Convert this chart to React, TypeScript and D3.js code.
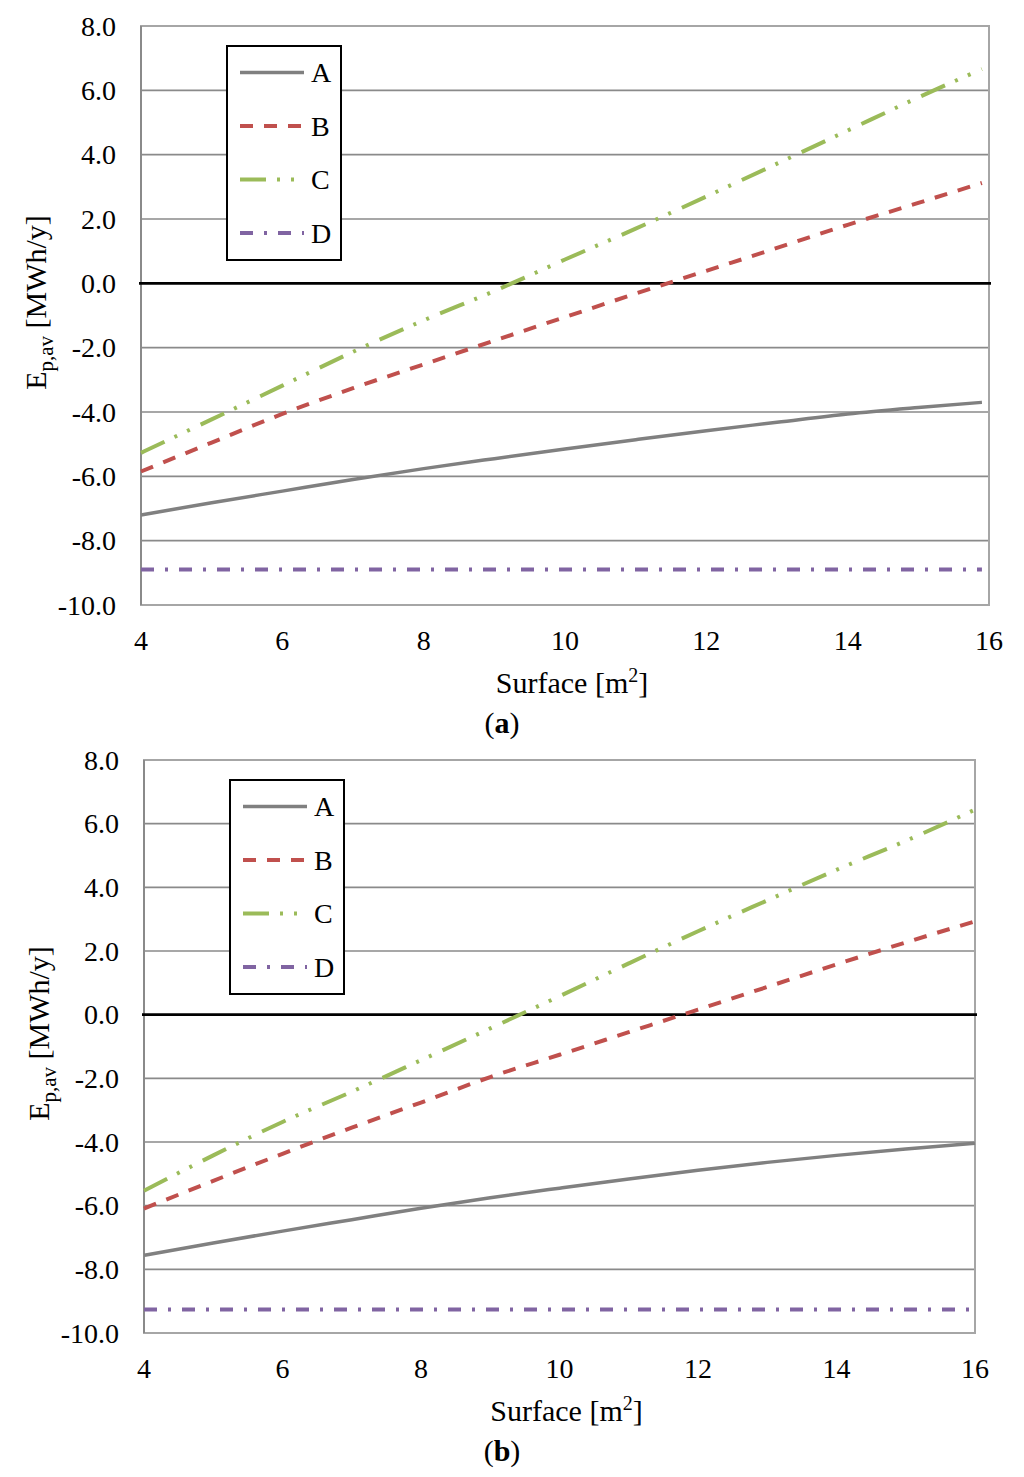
import React from 'react';
import * as d3 from 'd3';

// x values (surface, m2)
const surfaceA = [4, 5, 6, 7, 8, 9, 10, 11, 12, 13, 14, 15, 15.9];
const surfaceB = [4, 5, 6, 7, 8, 9, 10, 11, 12, 13, 14, 15, 16];

// panel (a)
const panelA_A = [-7.2, -6.82, -6.46, -6.1, -5.76, -5.45, -5.15, -4.86, -4.58, -4.32, -4.06, -3.86, -3.7];
const panelA_B = [-5.85, -4.95, -4.06, -3.26, -2.52, -1.78, -1.05, -0.32, 0.39, 1.1, 1.82, 2.5, 3.12];
const panelA_C = [-5.27, -4.23, -3.18, -2.13, -1.15, -0.24, 0.74, 1.7, 2.7, 3.72, 4.75, 5.78, 6.66];
const panelA_D = [-8.9, -8.9, -8.9, -8.9, -8.9, -8.9, -8.9, -8.9, -8.9, -8.9, -8.9, -8.9, -8.9];

// panel (b)
const panelB_A = [-7.56, -7.17, -6.8, -6.44, -6.08, -5.75, -5.45, -5.16, -4.89, -4.64, -4.42, -4.22, -4.04];
const panelB_B = [-6.09, -5.22, -4.37, -3.55, -2.76, -1.96, -1.26, -0.55, 0.16, 0.87, 1.58, 2.27, 2.93];
const panelB_C = [-5.53, -4.42, -3.37, -2.42, -1.43, -0.43, 0.58, 1.61, 2.62, 3.59, 4.55, 5.46, 6.44];
const panelB_D = [-9.26, -9.26, -9.26, -9.26, -9.26, -9.26, -9.26, -9.26, -9.26, -9.26, -9.26, -9.26, -9.26];

const seriesNames = ['A', 'B', 'C', 'D'];
const yTicks = [8, 6, 4, 2, 0, -2, -4, -6, -8, -10];
const xTicks = [4, 6, 8, 10, 12, 14, 16];

const styles = [
  { color: '#808080', dash: '', width: 3.5 },
  { color: '#c0504d', dash: '13 11', width: 4 },
  { color: '#9bbb59', dash: '26 11 3 11 3 12', width: 4 },
  { color: '#8064a2', dash: '13 11 3 11', width: 4 },
];

const FONT = '"Liberation Serif", "Times New Roman", serif';

type PanelProps = {
  left: number;
  right: number;
  top: number;
  bottom: number;
  xs: number[];
  series: number[][];
  caption: string;
};

const Panel: React.FC<PanelProps> = ({ left, right, top, bottom, xs, series, caption }) => {
  const x = d3.scaleLinear().domain([4, 16]).range([left, right]);
  const y = d3.scaleLinear().domain([-10, 8]).range([bottom, top]);
  const line = d3
    .line<[number, number]>()
    .x((d) => x(d[0]))
    .y((d) => y(d[1]))
    .curve(d3.curveMonotoneX);

  const legendLeft = left + 86;
  const legendTop = top + 20;
  const rowH = 53.5;

  return (
    <g fontFamily={FONT} fill="#000">
      {/* grid */}
      {yTicks
        .filter((t) => t !== 0 && t !== 8 && t !== -10)
        .map((t) => (
          <line key={t} x1={left} x2={right} y1={y(t)} y2={y(t)} stroke="#8a8a8a" strokeWidth={1.6} />
        ))}
      <rect x={left} y={top} width={right - left} height={bottom - top} fill="none" stroke="#a6a6a6" strokeWidth={2} />
      <line x1={left} x2={left} y1={top} y2={bottom} stroke="#8a8a8a" strokeWidth={2} />
      <line x1={left - 2} x2={right + 2} y1={y(0)} y2={y(0)} stroke="#000" strokeWidth={2.6} />

      {/* y tick labels */}
      {yTicks.map((t) => (
        <text key={t} x={left - 25} y={y(t)} dy="0.34em" textAnchor="end" fontSize={28} fontFamily={FONT}>
          {t.toFixed(1)}
        </text>
      ))}
      {/* x tick labels */}
      {xTicks.map((t) => (
        <text key={t} x={x(t)} y={bottom + 45} textAnchor="middle" fontSize={28} fontFamily={FONT}>
          {t}
        </text>
      ))}

      {/* series */}
      {series.map((vals, i) => (
        <path
          key={i}
          d={line(xs.map((v, j) => [v, vals[j]] as [number, number])) || ''}
          fill="none"
          stroke={styles[i].color}
          strokeWidth={styles[i].width}
          strokeDasharray={styles[i].dash || undefined}
        />
      ))}

      {/* legend */}
      <rect x={legendLeft} y={legendTop} width={114} height={214} fill="#fff" stroke="#000" strokeWidth={2} />
      {seriesNames.map((n, i) => {
        const cy = legendTop + 26.5 + i * rowH;
        return (
          <g key={n}>
            <line
              x1={legendLeft + 13}
              x2={legendLeft + 77}
              y1={cy}
              y2={cy}
              stroke={styles[i].color}
              strokeWidth={styles[i].width}
              strokeDasharray={styles[i].dash || undefined}
            />
            <text x={legendLeft + 84} y={cy} dy="0.34em" fontSize={28} fontFamily={FONT}>
              {n}
            </text>
          </g>
        );
      })}

      {/* axis titles */}
      <text
        transform={`translate(${left - 95},${(top + bottom) / 2 - 13}) rotate(-90)`}
        textAnchor="middle"
        fontSize={30}
        fontFamily={FONT}
      >
        E
        <tspan fontSize={21} dy={7}>
          p,av
        </tspan>
        <tspan dy={-7}> [MWh/y]</tspan>
      </text>
      <text x={(left + right) / 2 + 7} y={bottom + 88} textAnchor="middle" fontSize={30} fontFamily={FONT}>
        Surface [m
        <tspan fontSize={20} dy={-11}>
          2
        </tspan>
        <tspan dy={11}>]</tspan>
      </text>
      <text x={502} y={bottom + 128} textAnchor="middle" fontSize={30} fontFamily={FONT}>
        (<tspan fontWeight="bold">{caption}</tspan>)
      </text>
    </g>
  );
};

export default function App() {
  return (
    <svg
      width={1024}
      height={1477}
      style={{ position: 'absolute', left: 0, top: 0, background: '#fff' }}
    >
      <rect width={1024} height={1477} fill="#fff" />
      <Panel
        left={141}
        right={989}
        top={26}
        bottom={605}
        xs={surfaceA}
        series={[panelA_A, panelA_B, panelA_C, panelA_D]}
        caption="a"
      />
      <Panel
        left={144}
        right={975}
        top={760}
        bottom={1333}
        xs={surfaceB}
        series={[panelB_A, panelB_B, panelB_C, panelB_D]}
        caption="b"
      />
    </svg>
  );
}
